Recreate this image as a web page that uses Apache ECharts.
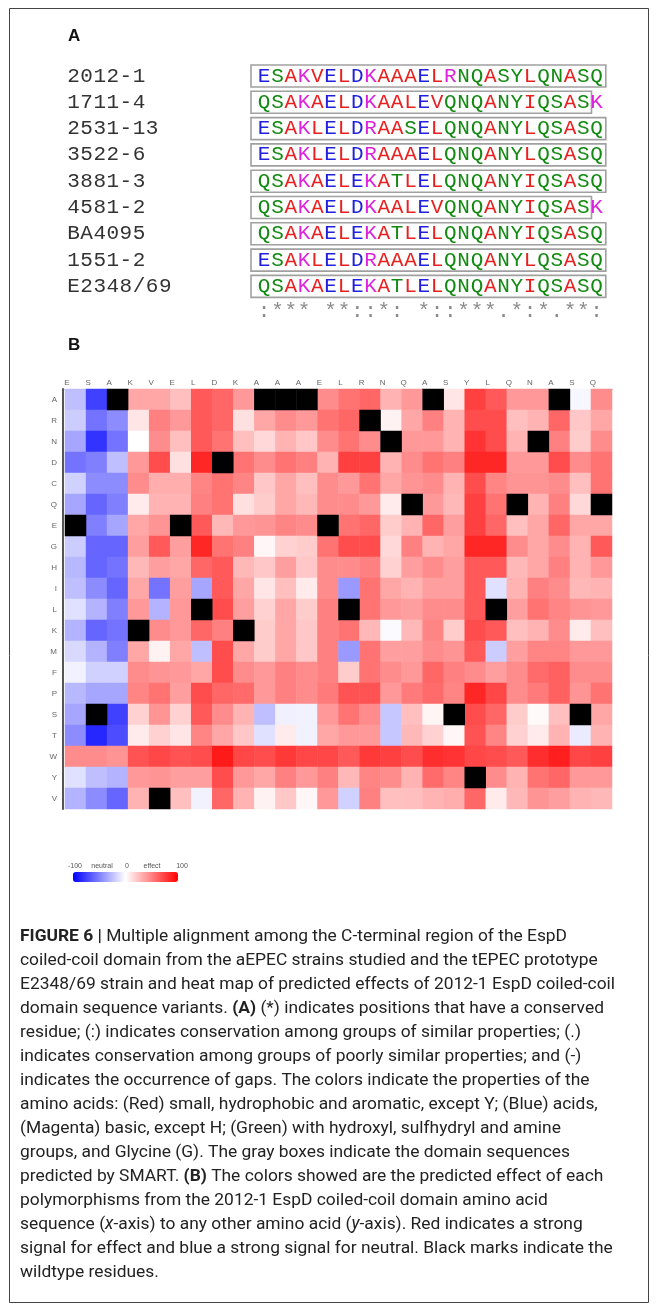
<!DOCTYPE html>
<html><head><meta charset="utf-8">
<script src="https://cdn.jsdelivr.net/npm/echarts@6/dist/echarts.min.js"></script>
<style>html,body{margin:0;padding:0;background:#fff}#c{width:657px;height:1310px}</style>
</head><body><div id="c"></div>
<script>
// ---------- Panel A data ----------
const strains = ['2012-1','1711-4','2531-13','3522-6','3881-3','4581-2','BA4095','1551-2','E2348/69'];
const sequences = [
  'ESAKVELDKAAAELRNQASYLQNASQ',
  'QSAKAELDKAALEVQNQANYIQSASK',
  'ESAKLELDRAASELQNQANYLQSASQ',
  'ESAKLELDRAAAELQNQANYLQSASQ',
  'QSAKAELEKATLELQNQANYIQSASQ',
  'QSAKAELDKAALEVQNQANYIQSASK',
  'QSAKAELEKATLELQNQANYIQSASQ',
  'ESAKLELDRAAAELQNQANYLQSASQ',
  'QSAKAELEKATLELQNQANYIQSASQ'
];
const smartBoxLengths = [26,25,26,26,26,25,26,26,26];
const consensus = ':*** **::*: *::***.*:*.**:';

// ---------- Panel B data ----------
const columns = ['E','S','A','K','V','E','L','D','K','A','A','A','E','L','R','N','Q','A','S','Y','L','Q','N','A','S','Q'];
const rows = ['A','R','N','D','C','Q','E','G','H','I','L','K','M','F','P','S','T','W','Y','V'];
// predicted effect (-100 neutral .. 100 effect); null = wildtype residue
const effA = [-25,-75,null,35,35,25,65,60,40,null,null,null,45, 55,60,30,40,null,10,75,65,40,40,null,-3,45];
const effR = [-20,-55,-45,10,50,40,65,60,12,35,45,40,55, 60,null,5,35,50,30,70,70,25,30,60,22,35];
const effN = [-35,-80,-55,0,45,25,65,55,25,15,30,22,45, 55,45,null,40,40,30,80,70,30,null,50,20,45];
const effD = [-55,-50,-25,40,70,12,85,null,55,45,55,50,30, 75,75,30,45,55,50,85,85,40,40,70,45,55];
const effC = [-18,-45,-45,45,32,32,48,55,48,22,35,25,45, 40,55,35,42,45,30,70,48,42,42,45,25,55];
const effQ = [-35,-60,-50,8,30,30,50,55,12,20,35,28,45, 45,40,8,null,40,28,75,55,null,30,50,15,null];
const effE = [null,-50,-35,35,42,null,65,28,40,42,48,45,null, 55,60,20,30,60,38,75,60,25,35,60,35,35];
const effG = [-20,-60,-60,38,65,38,85,55,50,3,18,20,55, 70,70,15,50,30,35,85,85,45,35,45,30,65];
const effH = [-28,-60,-55,28,38,35,60,65,28,22,38,22,45, 45,50,18,38,45,38,65,65,28,35,50,30,40];
const effI = [-25,-45,-60,35,-55,38,-35,65,35,10,25,8,45, -40,55,35,30,38,38,65,-12,30,50,45,28,30];
const effL = [-12,-30,-50,40,-30,40,null,70,38,18,35,20,50, null,55,40,38,45,45,65,null,38,55,48,42,40];
const effK = [-30,-60,-55,null,45,40,60,50,null,20,35,22,50, 55,28,-2,28,48,20,70,65,25,30,45,8,25];
const effM = [-15,-30,-50,35,5,35,-25,70,35,20,35,22,50, -40,55,38,38,45,42,65,-20,38,48,48,40,40];
const effF = [-5,-18,-18,45,42,40,35,70,45,40,50,45,50, 20,55,45,40,60,50,45,38,45,58,62,45,45];
const effP = [-28,-35,-35,48,55,38,70,60,58,40,50,45,52, 68,68,40,52,58,48,85,72,45,52,62,42,55];
const effS = [-35,null,-75,18,42,18,65,45,30,-25,-6,-5,40, 55,45,-22,25,4,null,70,60,20,2,25,null,35];
const effT = [-45,-85,-70,8,18,10,48,35,22,-12,8,-5,35, 40,40,-22,28,18,3,68,48,18,8,30,-8,30];
const effW = [45,45,42,68,72,68,70,90,72,70,78,72,72, 65,78,75,70,82,80,72,70,65,82,88,72,75];
const effY = [-12,-25,-30,40,42,38,38,70,40,35,50,40,50, 28,48,45,30,58,48,null,45,30,55,60,40,40];
const effV = [-30,-45,-60,30,null,25,-5,60,30,5,22,3,40, -18,50,25,25,30,32,60,8,28,42,38,30,28];
const effectRows = [effA,effR,effN,effD,effC,effQ,effE,effG,effH,effI,effL,effK,effM,effF,effP,effS,effT,effW,effY,effV];
const legendLabels = ['-100','neutral','0','effect','100'];

const captionLines = [
 '{b|FIGURE 6 |} Multiple alignment among the C-terminal region of the EspD',
 'coiled-coil domain from the aEPEC strains studied and the tEPEC prototype',
 'E2348/69 strain and heat map of predicted effects of 2012-1 EspD coiled-coil',
 'domain sequence variants. {b|(A)} (*) indicates positions that have a conserved',
 'residue; (:) indicates conservation among groups of similar properties; (.)',
 'indicates conservation among groups of poorly similar properties; and (-)',
 'indicates the occurrence of gaps. The colors indicate the properties of the',
 'amino acids: (Red) small, hydrophobic and aromatic, except Y; (Blue) acids,',
 '(Magenta) basic, except H; (Green) with hydroxyl, sulfhydryl and amine',
 'groups, and Glycine (G). The gray boxes indicate the domain sequences',
 'predicted by SMART. {b|(B)} The colors showed are the predicted effect of each',
 'polymorphisms from the 2012-1 EspD coiled-coil domain amino acid',
 'sequence ({i|x}-axis) to any other amino acid ({i|y}-axis). Red indicates a strong',
 'signal for effect and blue a strong signal for neutral. Black marks indicate the',
 'wildtype residues.'
];

// ---------- build ----------
function residueColor(ch){
  if ('DE'.includes(ch)) return '#2020dd';
  if ('RK'.includes(ch)) return '#dd22dd';
  if ('AVFPMILW'.includes(ch)) return '#e82020';
  return '#128a12';
}
const heatData = [];
effectRows.forEach((row, r) => row.forEach((v, c) => { if (v !== null) heatData.push([c, r, v]); }));
const wtData = columns.map((aa, c) => [c, rows.indexOf(aa), 1]);

const graphics = [];
function txt(x, y, text, font, fill, align, vAlign, extra){
  const style = Object.assign({text, font, fill, textAlign: align||'left', align: align||'left',
    textVerticalAlign: vAlign||'middle', verticalAlign: vAlign||'middle'}, extra||{});
  graphics.push({type:'text', x, y, silent:true, style});
}
// border
graphics.push({type:'rect', shape:{x:9.5, y:8.5, width:639, height:1294}, silent:true,
  style:{fill:'none', stroke:'#444', lineWidth:1}});
// panel labels
txt(68, 36, 'A', 'bold 17px "Liberation Sans"', '#111');
txt(68, 345, 'B', 'bold 17px "Liberation Sans"', '#111');

const monoFont = '21px "Liberation Mono"';
const pitch = 13.3, seqX0 = 257.5, rowY0 = 76, rowStep = 26.3;
strains.forEach((s, i) => {
  const y = rowY0 + i * rowStep;
  s.split('').forEach((ch, k) => txt(67 + k*13.1 + 6.5, y, ch, monoFont, '#333', 'center'));
  graphics.push({type:'rect', silent:true,
    shape:{x:251, y:y-11, width: 8 + smartBoxLengths[i]*pitch + (smartBoxLengths[i]===26?1:0), height:22},
    style:{fill:'none', stroke:'#a0a0a0', lineWidth:1.6}});
  sequences[i].split('').forEach((ch, k) => {
    txt(seqX0 + k*pitch + pitch/2, y, ch, monoFont, residueColor(ch), 'center');
  });
});
consensus.split('').forEach((ch, k) => {
  if (ch !== ' ') txt(seqX0 + k*pitch + pitch/2, 311, ch, monoFont, '#8a8a8a', 'center');
});
// legend labels
const legendX = [75, 102, 127, 152, 182];
legendLabels.forEach((t, i) => txt(legendX[i], 866, t, '7px "Liberation Sans"', '#555', 'center'));
// caption
const capSize = '17.4px';
captionLines.forEach((line, i) => {
  txt(20, 937 + i*24, line, capSize + ' Roboto', '#222', 'left', 'middle', {
    rich: {
      b: {font: 'bold ' + capSize + ' Roboto', fill: '#222'},
      i: {font: 'italic ' + capSize + ' Roboto', fill: '#222'}
    }
  });
});

const chart = echarts.init(document.getElementById('c'));
chart.setOption({
  animation: false,
  grid: {left: 65, top: 389, width: 547, height: 420},
  xAxis: {
    type: 'category', position: 'top', data: columns,
    axisLine: {show: true, lineStyle: {color: '#777', width: 1}},
    axisTick: {show: false}, splitLine: {show: false},
    axisLabel: {fontSize: 8, color: '#666', margin: 2, padding: [0, 17, 0, 0], fontFamily: 'Liberation Sans', interval: 0}
  },
  yAxis: {
    type: 'category', inverse: true, data: rows, offset: 2,
    axisLine: {show: true, lineStyle: {color: '#555', width: 2}},
    axisTick: {show: false}, splitLine: {show: false},
    axisLabel: {fontSize: 8, color: '#666', margin: 6, padding: [15, 0, 0, 0], fontFamily: 'Liberation Sans', interval: 0}
  },
  visualMap: {
    type: 'continuous', seriesIndex: 0, min: -100, max: 100, orient: 'horizontal',
    left: 73, top: 872, itemWidth: 10, itemHeight: 105, padding: 0,
    calculable: false, text: null, hoverLink: false,
    inRange: {color: ['#0000ff', '#ffffff', '#ff0000']}
  },
  series: [
    {type: 'heatmap', data: heatData, itemStyle: {borderWidth: 0}},
    {type: 'heatmap', data: wtData, itemStyle: {color: '#000000'}}
  ],
  graphic: graphics
});
</script></body></html>
